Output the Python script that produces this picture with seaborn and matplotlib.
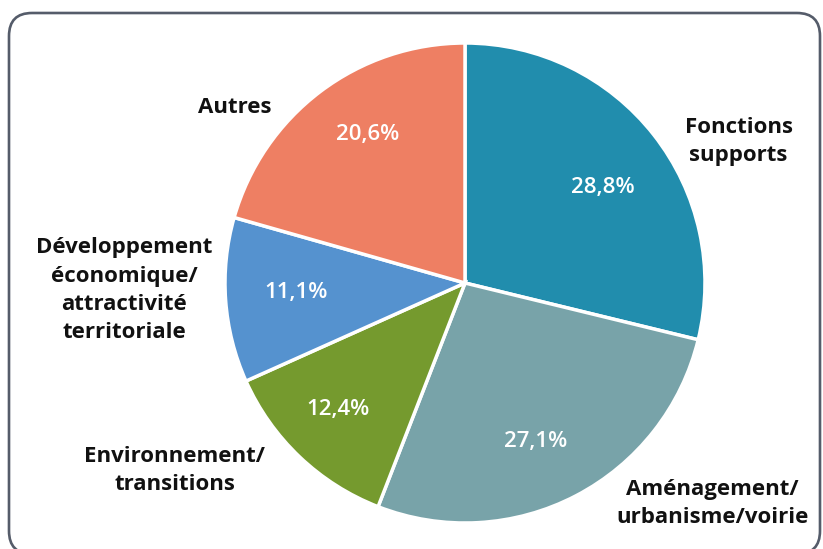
import matplotlib
matplotlib.use("Agg")
import matplotlib.pyplot as plt
from matplotlib.patches import FancyBboxPatch
import seaborn as sns

sns.set_theme(style="white")
plt.rcParams['font.family'] = ['Open Sans', 'DejaVu Sans']

categories = ["Fonctions\nsupports", "Aménagement/\nurbanisme/voirie", "Environnement/\ntransitions",
              "Développement\néconomique/\nattractivité\nterritoriale", "Autres"]
values = [28.8, 27.1, 12.4, 11.1, 20.6]
colors = ["#218dad", "#78a3a9", "#759a2e", "#5592cf", "#ee7f63"]
# text positions (data coords, pie radius = 1)
label_pos = [(1.14, 0.59), (1.03, -0.92), (-1.21, -0.78), (-1.42, -0.03), (-0.96, 0.73)]
pct_pos = [(0.575, 0.40), (0.296, -0.66), (-0.529, -0.529), (-0.704, -0.04), (-0.404, 0.617)]

W, H = 823, 549
fig = plt.figure(figsize=(W / 100, H / 100), dpi=100)
fig.patch.set_facecolor("white")

# rounded frame
top, bottom, left, right = 13, 554, 9, 820
frame = FancyBboxPatch((left / W, (H - bottom) / H), (right - left) / W, (bottom - top) / H,
                       boxstyle="round,pad=0,rounding_size=0.028",
                       transform=fig.transFigure, facecolor="none",
                       edgecolor="#555c6a", linewidth=1.9, mutation_aspect=W / H)
fig.patches.append(frame)

cx, cy, r = 465, 283, 240
ax = fig.add_axes([(cx - r) / W, (H - cy - r) / H, 2 * r / W, 2 * r / H])
wedges, texts, autotexts = ax.pie(
    values, colors=colors, startangle=90, counterclock=False,
    autopct=lambda p: f"{p:.1f}%".replace(".", ","), pctdistance=0.72,
    wedgeprops=dict(edgecolor="white", linewidth=2.5),
    textprops=dict(color="white", fontsize=16, fontweight="semibold"))
for t, pos in zip(autotexts, pct_pos):
    t.set_position(pos)
ax.set_xlim(-1, 1)
ax.set_ylim(-1, 1)
ax.set_aspect("auto")
ax.axis("off")

for lab, (x, y) in zip(categories, label_pos):
    ax.text(x, y, lab, ha="center", va="center", fontsize=16, fontweight="bold",
            color="#111111", linespacing=1.45, clip_on=False)

fig.savefig("out.png", dpi=100, facecolor="white")
